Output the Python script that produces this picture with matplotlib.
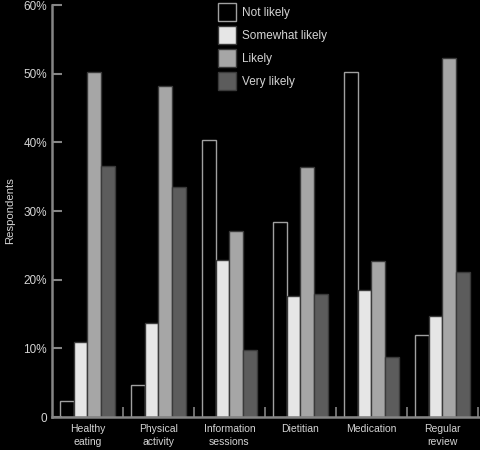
import numpy as np
import matplotlib
matplotlib.use("Agg")
import matplotlib.pyplot as plt

# ==========================================
# Data
# ==========================================

categories = ["Healthy\neating", "Physical\nactivity", "Information\nsessions",
              "Dietitian", "Medication", "Regular\nreview"]

series_names = ["Not likely", "Somewhat likely", "Likely", "Very likely"]

not_likely = [2.3, 4.7, 40.3, 28.4, 50.2, 11.9]
somewhat_likely = [10.9, 13.7, 22.9, 17.6, 18.5, 14.7]
likely = [50.2, 48.2, 27.1, 36.4, 22.7, 52.3]
very_likely = [36.5, 33.5, 9.8, 17.9, 8.7, 21.1]

y_ticks = [0, 10, 20, 30, 40, 50, 60]
y_tick_labels = ["0", "10%", "20%", "30%", "40%", "50%", "60%"]

# ==========================================
# Styles
# ==========================================

fills = ["#000000", "#e6e6e6", "#a6a6a6", "#5c5c5c"]
edges = ["#a0a0a0", "#3a3a3a", "#3a3a3a", "#3a3a3a"]
text_color = "#d4d4d4"
axis_color = "#858585"

plt.rcParams["font.family"] = ["Liberation Sans", "DejaVu Sans"]

fig = plt.figure(figsize=(4.8, 4.5), dpi=100, facecolor="black")
ax = fig.add_axes([52 / 480, 33 / 450, 428 / 480, 412 / 450])
ax.set_facecolor("black")

group_step = 5.1
x = np.arange(len(categories)) * group_step
offsets = [-1.5, -0.5, 0.5, 1.5]
values = [not_likely, somewhat_likely, likely, very_likely]

for vals, off, fc, ec, name in zip(values, offsets, fills, edges, series_names):
    ax.bar(x + off, vals, width=1.0, color=fc, edgecolor=ec,
           linewidth=1.0, label=name)

ax.set_xlim(-group_step / 2, x[-1] + group_step / 2 + 0.15)
ax.set_ylim(0, 60)

# y axis
ax.set_yticks(y_ticks)
ax.set_yticklabels(y_tick_labels)
ax.tick_params(axis="y", direction="in", length=7.5, width=1.5,
               color=axis_color, labelcolor=text_color, labelsize=8.5, pad=3.5)

# x axis: labels at group centres, ticks between groups
ax.set_xticks(x)
ax.set_xticklabels(categories, fontsize=7.5, color=text_color, linespacing=1.35)
ax.tick_params(axis="x", length=0, pad=5)
ax.set_xticks((np.arange(len(categories)) + 0.5) * group_step, minor=True)
ax.tick_params(axis="x", which="minor", direction="in", length=7.5,
               width=1.2, color=axis_color)

ax.set_ylabel("Respondents", color=text_color, fontsize=8.2, labelpad=6)

for side in ["top", "right"]:
    ax.spines[side].set_visible(False)
for side in ["left", "bottom"]:
    ax.spines[side].set_color(axis_color)
    ax.spines[side].set_linewidth(1.8)

leg = fig.legend(loc="upper left", bbox_to_anchor=(218 / 480, 1 - 3 / 450),
                 frameon=False, fontsize=8.5, handlelength=1.55,
                 handleheight=1.98, labelspacing=0.42, handletextpad=0.5,
                 borderpad=0, borderaxespad=0)
for t in leg.get_texts():
    t.set_color(text_color)

fig.savefig("out.png", dpi=100, facecolor="black")
